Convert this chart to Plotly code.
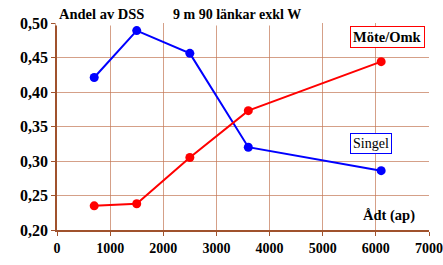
import plotly.graph_objects as go

adt = [700, 1500, 2500, 3600, 6100]
singel = [0.421, 0.489, 0.456, 0.320, 0.286]
mote_omk = [0.235, 0.238, 0.305, 0.373, 0.444]

x_ticks = [0, 1000, 2000, 3000, 4000, 5000, 6000, 7000]
y_ticks = [0.20, 0.25, 0.30, 0.35, 0.40, 0.45, 0.50]
y_labels = ["0,20", "0,25", "0,30", "0,35", "0,40", "0,45", "0,50"]

font = "Liberation Serif, Times New Roman, serif"
grid = "rgba(195,120,85,0.7)"
axc = "#a0522d"

fig = go.Figure()
fig.add_trace(go.Scatter(x=adt, y=singel, mode="lines+markers", name="Singel",
                         line=dict(color="#0000ff", width=2), cliponaxis=False,
                         marker=dict(color="#0000ff", size=9)))
fig.add_trace(go.Scatter(x=adt, y=mote_omk, mode="lines+markers", name="Möte/Omk",
                         line=dict(color="#ff0000", width=2), cliponaxis=False,
                         marker=dict(color="#ff0000", size=9)))

fig.update_layout(
    width=443, height=265,
    margin=dict(l=57, r=14, t=23, b=35),
    paper_bgcolor="white", plot_bgcolor="white",
    showlegend=False,
    font=dict(family=font, color="black"),
    xaxis=dict(range=[0, 7000], tickvals=x_ticks, ticktext=["<b>%d</b>" % v for v in x_ticks],
               showgrid=True, gridcolor=grid, gridwidth=1.3, automargin=False,
               showline=True, linecolor=axc, linewidth=1.5,
               ticks="outside", ticklen=4, tickcolor=axc, zeroline=False,
               tickfont=dict(family=font, size=14, color="black")),
    yaxis=dict(range=[0.20, 0.50], tickvals=y_ticks, ticktext=["<b>%s</b>" % s for s in y_labels],
               showgrid=True, gridcolor=grid, gridwidth=1.3, automargin=False,
               showline=True, linecolor=axc, linewidth=1.5,
               ticks="outside", ticklen=4, tickcolor=axc, zeroline=False,
               tickfont=dict(family=font, size=16, color="black")),
)

fig.add_annotation(x=-0.005, y=1.043, xref="paper", yref="paper", xanchor="left", yanchor="middle",
                   text="<b>Andel av DSS</b>", showarrow=False, bgcolor="white", borderpad=3,
                   font=dict(family=font, size=14.5, color="black"))
fig.add_annotation(x=0.3, y=1.043, xref="paper", yref="paper", xanchor="left", yanchor="middle",
                   text="<b>9 m 90 länkar exkl W</b>", showarrow=False, bgcolor="white", borderpad=3,
                   font=dict(family=font, size=14, color="black"))
fig.add_annotation(x=0.989, y=0.93, xref="paper", yref="paper", xanchor="right", yanchor="middle",
                   text="<b>Möte/Omk</b>", showarrow=False, bgcolor="white",
                   bordercolor="#ff0000", borderwidth=1, borderpad=2,
                   font=dict(family=font, size=14.5, color="black"))
fig.add_annotation(x=0.845, y=0.42, xref="paper", yref="paper", xanchor="center", yanchor="middle",
                   text="Singel", showarrow=False, bgcolor="white",
                   bordercolor="#0000ff", borderwidth=1, borderpad=2,
                   font=dict(family=font, size=14, color="black"))
fig.add_annotation(x=0.968, y=0.07, xref="paper", yref="paper", xanchor="right", yanchor="middle",
                   text="<b>Ådt (ap)</b>", showarrow=False,
                   font=dict(family=font, size=14.5, color="black"))

fig.write_html("out.html", config={"displayModeBar": False},
               post_script="document.body.style.margin='0';")
